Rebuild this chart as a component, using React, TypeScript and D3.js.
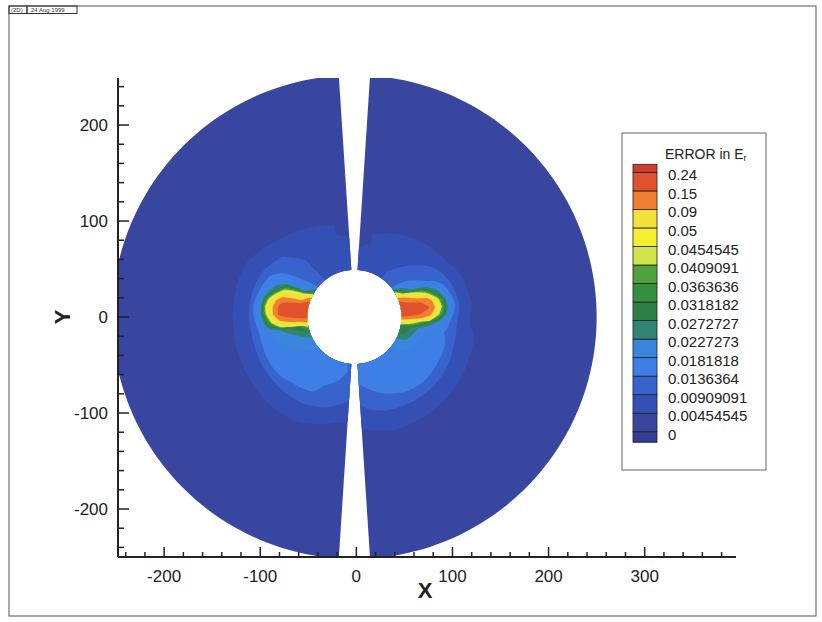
import React, { useMemo } from "react";
import * as d3 from "d3";

// polar grid nodes (degrees / units) for the two half-rings either side of the slit
const thetaRight = [-86.3, -70, -55, -40, -28, -18, -10, -4, 2, 7, 12, 18, 26, 38, 55, 70, 86.3];
const thetaLeft = [93.7, 110, 125, 140, 152, 162, 168, 173, 178, 184, 190, 198, 210, 225, 240, 254, 266.3];
const radii = [49, 58, 68, 78, 88, 98, 112, 130, 160, 200, 252];

// error, in thousandths; one row per radius, one column per angle
const errorRight = [
  [14, 16, 17, 18, 22, 30, 32, 75, 175, 210, 200, 165, 65, 14, 9, 7, 6],
  [15, 16, 17, 18, 21, 26, 28, 55, 165, 210, 185, 115, 32, 12, 9, 7, 6],
  [14, 16, 17, 17, 18, 19, 22, 42, 145, 190, 165, 65, 19, 11, 8, 6, 5],
  [12, 15, 16, 16, 16, 16, 17, 28, 105, 155, 125, 45, 15, 10, 7, 5, 4],
  [10, 13, 15, 15, 15, 15, 15, 20, 42, 52, 46, 25, 13, 9, 6, 5, 4],
  [8, 11, 13, 14, 14, 14, 13, 14, 18, 22, 19, 15, 11, 7, 5, 4, 3],
  [5, 6, 7, 8, 8, 7, 7, 6, 6, 7, 6, 6, 5, 4, 3, 3, 3],
  [3, 4, 4, 4, 4, 4, 4, 3, 3, 3, 3, 3, 3, 3, 3, 3, 3],
  [3, 3, 3, 3, 3, 3, 3, 3, 3, 3, 3, 3, 3, 3, 3, 3, 3],
  [3, 3, 3, 3, 3, 3, 3, 3, 3, 3, 3, 3, 3, 3, 3, 3, 3],
  [2, 2, 2, 2, 2, 2, 2, 2, 2, 2, 2, 2, 2, 2, 2, 2, 2],
];
const errorLeft = [
  [6, 7, 8, 12, 45, 175, 210, 220, 200, 115, 48, 28, 20, 17, 16, 15, 13],
  [6, 7, 8, 12, 22, 85, 190, 210, 200, 105, 32, 24, 19, 17, 16, 15, 13],
  [5, 6, 8, 11, 18, 70, 165, 210, 190, 95, 27, 21, 18, 16, 16, 14, 12],
  [5, 6, 8, 11, 16, 55, 135, 180, 165, 72, 23, 19, 17, 16, 15, 12, 10],
  [4, 5, 7, 10, 15, 28, 52, 64, 57, 37, 19, 17, 16, 15, 14, 11, 9],
  [4, 5, 6, 9, 13, 16, 19, 23, 21, 17, 15, 15, 15, 13, 12, 9, 7],
  [3, 3, 4, 5, 6, 7, 7, 7, 7, 7, 7, 7, 7, 7, 6, 5, 4],
  [3, 3, 3, 3, 4, 4, 4, 4, 4, 4, 4, 4, 4, 4, 4, 3, 3],
  [3, 3, 3, 3, 3, 3, 3, 3, 3, 3, 3, 3, 3, 3, 3, 3, 3],
  [3, 3, 3, 3, 3, 3, 3, 3, 3, 3, 3, 3, 3, 3, 3, 3, 3],
  [2, 2, 2, 2, 2, 2, 2, 2, 2, 2, 2, 2, 2, 2, 2, 2, 2],
];

const levels = [
  0, 0.00454545, 0.00909091, 0.0136364, 0.0181818, 0.0227273, 0.0272727, 0.0318182,
  0.0363636, 0.0409091, 0.0454545, 0.05, 0.09, 0.15, 0.24,
];
const levelLabels = [
  "0", "0.00454545", "0.00909091", "0.0136364", "0.0181818", "0.0227273", "0.0272727",
  "0.0318182", "0.0363636", "0.0409091", "0.0454545", "0.05", "0.09", "0.15", "0.24",
];
// band colours, from below the lowest level up to above the highest
const bandColors = [
  "#333d92", "#3946a0", "#3550b4", "#3862cc", "#3d7fe4", "#3a86dc", "#2f8474", "#2e8048",
  "#34903e", "#4fa23c", "#cfe44a", "#f6ef30", "#f3e03a", "#f08030", "#e0522e", "#d23c2c",
];

const xTicks = [-200, -100, 0, 100, 200, 300];
const yTicks = [-200, -100, 0, 100, 200];

const FONT = "'Liberation Sans', Arial, Helvetica, sans-serif";

export default function App() {
  const W = 822;
  const H = 622;
  const x = d3.scaleLinear().domain([-248, 395]).range([118, 736]);
  const y = d3.scaleLinear().domain([-250, 249]).range([557, 78]);
  const cx = -2; // centre of the ring, slightly left of x = 0

  const layers = useMemo(() => {
    const out: { key: string; d: string; fill: string }[] = [];
    const halves = [
      { thetas: thetaRight, errs: errorRight },
      { thetas: thetaLeft, errs: errorLeft },
    ];
    halves.forEach((h, hi) => {
      const n = h.thetas.length;
      const m = radii.length;
      const tS = d3.scaleLinear().domain(d3.range(n)).range(h.thetas).clamp(true);
      const rS = d3.scaleLinear().domain(d3.range(m)).range(radii).clamp(true);
      const toPx = (gx: number, gy: number) => {
        const th = (tS(gx - 0.5) * Math.PI) / 180;
        const r = rS(gy - 0.5);
        return [x(cx + r * Math.cos(th)), y(r * Math.sin(th))];
      };
      const ringPath = (ring: number[][]) => {
        let d = "";
        for (let k = 0; k < ring.length - 1; k++) {
          const [ax, ay] = ring[k];
          const [bx, by] = ring[k + 1];
          const steps = Math.max(1, Math.ceil(Math.hypot(bx - ax, by - ay) * 8));
          for (let s = 0; s < steps; s++) {
            const t = s / steps;
            const p = toPx(ax + (bx - ax) * t, ay + (by - ay) * t);
            d += (d === "" ? "M" : "L") + p[0].toFixed(2) + "," + p[1].toFixed(2);
          }
        }
        return d + "Z";
      };
      const values = h.errs.flat().map((v) => v / 1000);
      out.push({
        key: `base${hi}`,
        d: ringPath([[0, 0], [n, 0], [n, m], [0, m], [0, 0]]),
        fill: bandColors[1],
      });
      const gen = d3.contours().size([n, m]);
      for (let k = 1; k < levels.length; k++) {
        const mp = gen.contour(values, levels[k]);
        const d = mp.coordinates.map((poly) => poly.map(ringPath).join("")).join("");
        if (d) out.push({ key: `c${hi}-${k}`, d, fill: bandColors[k + 1] });
      }
    });
    return out;
  }, []);

  const xMinor = d3.range(-240, 395, 20);
  const yMinor = d3.range(-240, 249, 20);

  // legend geometry
  const legX = 633;
  const legW = 24;
  const by = (k: number) => 431.7 - k * 18.52;
  const bands = bandColors.map((c, b) => {
    const top = b === 15 ? 164.3 : by(b);
    const bottom = b === 0 ? 442.3 : by(b - 1);
    return { c, top, bottom };
  });

  return (
    <svg
      width={W}
      height={H}
      style={{ position: "absolute", left: 0, top: 0, display: "block", background: "#fff" }}
      fontFamily={FONT}
    >
      <rect x={0} y={0} width={W} height={H} fill="#fff" />

      {/* frame and header */}
      <rect x={9} y={6} width={807} height={610} fill="none" stroke="#555" strokeWidth={1} />
      <rect x={9} y={6} width={18} height={7.5} fill="none" stroke="#333" strokeWidth={1} />
      <rect x={27} y={6} width={50} height={7.5} fill="none" stroke="#333" strokeWidth={1} />
      <text x={11} y={12} fontSize={6} fill="#333">(2D)</text>
      <text x={31} y={12} fontSize={6} fill="#333">24 Aug 1999</text>

      <defs>
        <clipPath id="plotClip">
          <rect x={118} y={78} width={618} height={479} />
        </clipPath>
      </defs>

      {/* flooded contours */}
      <g clipPath="url(#plotClip)">
        {layers.map((l) => (
          <path key={l.key} d={l.d} fill={l.fill} fillRule="evenodd" stroke="none" />
        ))}
      </g>

      {/* axes */}
      <g stroke="#222" strokeWidth={1.5}>
        <line x1={118} x2={736} y1={557} y2={557} strokeWidth={2} />
        <line x1={118} x2={118} y1={78} y2={557} strokeWidth={2} />
        {xMinor.map((t) => (
          <line key={`xm${t}`} x1={x(t)} x2={x(t)} y1={557} y2={t % 100 === 0 ? 547 : 552} />
        ))}
        {yMinor.map((t) => (
          <line key={`ym${t}`} x1={118} x2={t % 100 === 0 ? 129 : 124} y1={y(t)} y2={y(t)} />
        ))}
      </g>
      <g fontSize={17} fill="#222">
        {xTicks.map((t) => (
          <text key={`xt${t}`} x={x(t)} y={582} textAnchor="middle">
            {t}
          </text>
        ))}
        {yTicks.map((t) => (
          <text key={`yt${t}`} x={108} y={y(t)} textAnchor="end" dominantBaseline="central">
            {t}
          </text>
        ))}
      </g>
      <text x={425} y={598} textAnchor="middle" fontSize={22} fontWeight="bold" fill="#222">
        X
      </text>
      <text
        transform={`translate(70,${y(0)}) rotate(-90)`}
        textAnchor="middle"
        fontSize={22}
        fontWeight="bold"
        fill="#222"
      >
        Y
      </text>

      {/* legend */}
      <rect x={622} y={133} width={144} height={337} fill="#fff" stroke="#666" strokeWidth={1} />
      <text x={665} y={154} fontSize={14} fill="#222" dominantBaseline="central">
        ERROR in E
        <tspan fontSize={9} dy={4}>r</tspan>
      </text>
      {bands.map((b, i) => (
        <rect
          key={`band${i}`}
          x={legX}
          y={b.top}
          width={legW}
          height={b.bottom - b.top}
          fill={b.c}
          stroke="#222"
          strokeWidth={0.8}
        />
      ))}
      {levelLabels.map((lab, k) => (
        <text
          key={`lab${k}`}
          x={668}
          y={by(k) + 2.5}
          fontSize={15}
          fill="#222"
          dominantBaseline="central"
        >
          {lab}
        </text>
      ))}
    </svg>
  );
}
